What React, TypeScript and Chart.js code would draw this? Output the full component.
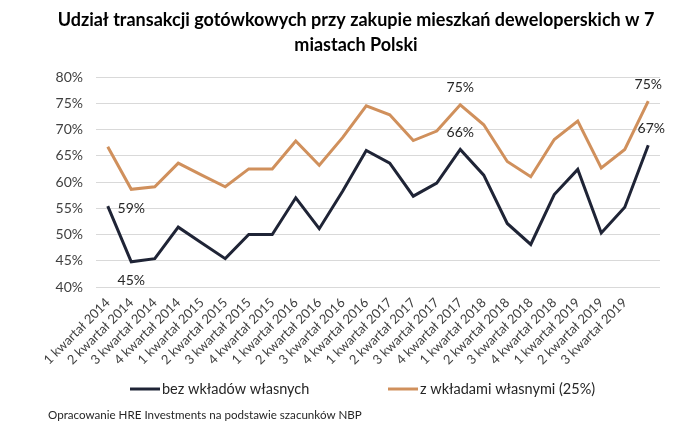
import React, { useEffect, useRef } from "react";
import { Chart, registerables } from "chart.js";

Chart.register(...registerables);

const categories: string[] = [
  "1 kwartał 2014", "2 kwartał 2014", "3 kwartał 2014", "4 kwartał 2014",
  "1 kwartał 2015", "2 kwartał 2015", "3 kwartał 2015", "4 kwartał 2015",
  "1 kwartał 2016", "2 kwartał 2016", "3 kwartał 2016", "4 kwartał 2016",
  "1 kwartał 2017", "2 kwartał 2017", "3 kwartał 2017", "4 kwartał 2017",
  "1 kwartał 2018", "2 kwartał 2018", "3 kwartał 2018", "4 kwartał 2018",
  "1 kwartał 2019", "2 kwartał 2019", "3 kwartał 2019", "",
];

const bezWkladow: number[] = [
  55.4, 44.8, 45.4, 51.4, 48.4, 45.4, 50.0, 50.0, 57.0, 51.1, 58.3, 66.0,
  63.6, 57.3, 59.8, 66.2, 61.3, 52.1, 48.1, 57.6, 62.4, 50.3, 55.2, 67.0,
];

const zWkladami: number[] = [
  66.7, 58.6, 59.1, 63.6, 61.3, 59.1, 62.5, 62.5, 67.8, 63.2, 68.5, 74.5,
  72.8, 67.9, 69.7, 74.7, 70.9, 63.9, 61.0, 68.1, 71.6, 62.7, 66.2, 75.4,
];

const yTicks: number[] = [40, 45, 50, 55, 60, 65, 70, 75, 80];

const seriesNames: string[] = ["bez wkładów własnych", "z wkładami własnymi (25%)"];
const seriesColors: string[] = ["#1f2436", "#d0905c"];

// which points get a data label: [datasetIndex, pointIndex, "above" | "below"]
const labelledPoints: [number, number, string][] = [
  [0, 1, "below"],
  [0, 15, "above"],
  [0, 23, "above"],
  [1, 1, "below"],
  [1, 15, "above"],
  [1, 23, "above"],
];

const titleLines: string[] = [
  "Udział transakcji gotówkowych przy zakupie mieszkań deweloperskich w 7",
  "miastach Polski",
];
const footerText = "Opracowanie HRE Investments na podstawie szacunków NBP";

const FONT = "Lato, 'Noto Sans', sans-serif";

const overlayPlugin = {
  id: "overlay",
  afterDatasetsDraw(chart: any) {
    const ctx = chart.ctx;
    ctx.save();
    ctx.fillStyle = "#262626";
    ctx.font = `14px ${FONT}`;
    ctx.textAlign = "center";
    ctx.textBaseline = "middle";
    labelledPoints.forEach(([ds, idx, pos]) => {
      const el = chart.getDatasetMeta(ds).data[idx];
      const v = chart.data.datasets[ds].data[idx] as number;
      const dy = pos === "above" ? -17 : 19;
      const dx = idx === chart.data.labels.length - 1 && ds === 0 ? 3 : 0;
      ctx.fillText(Math.round(v) + "%", el.x + dx, el.y + dy);
    });
    ctx.restore();
  },
  afterDraw(chart: any) {
    const ctx = chart.ctx;
    ctx.save();
    // title
    ctx.fillStyle = "#000000";
    ctx.font = `bold 18px ${FONT}`;
    ctx.textAlign = "center";
    ctx.textBaseline = "middle";
    titleLines.forEach((t, i) => ctx.fillText(t, 356, 20 + i * 25));
    // legend
    const legendY = 389;
    const legendX = [130, 388];
    ctx.font = `14.5px ${FONT}`;
    ctx.textAlign = "left";
    chart.data.datasets.forEach((d: any, i: number) => {
      ctx.strokeStyle = d.borderColor;
      ctx.lineWidth = 3;
      ctx.beginPath();
      ctx.moveTo(legendX[i], legendY);
      ctx.lineTo(legendX[i] + 30, legendY);
      ctx.stroke();
      ctx.fillStyle = "#262626";
      ctx.fillText(d.label, legendX[i] + 32, legendY);
    });
    // footer
    ctx.font = `11.6px ${FONT}`;
    ctx.fillStyle = "#262626";
    ctx.fillText(footerText, 48, 415);
    ctx.restore();
  },
};

export default function App() {
  const canvasRef = useRef<HTMLCanvasElement | null>(null);

  useEffect(() => {
    document.body.style.margin = "0";
    const canvas = canvasRef.current!;
    const chart = new Chart(canvas, {
      type: "line",
      data: {
        labels: categories,
        datasets: [
          {
            label: seriesNames[0],
            data: bezWkladow,
            borderColor: seriesColors[0],
            backgroundColor: seriesColors[0],
            borderWidth: 3,
            pointRadius: 0,
            tension: 0,
          },
          {
            label: seriesNames[1],
            data: zWkladami,
            borderColor: seriesColors[1],
            backgroundColor: seriesColors[1],
            borderWidth: 3,
            pointRadius: 0,
            tension: 0,
          },
        ],
      },
      options: {
        responsive: false,
        animation: false,
        layout: { padding: { left: 0, right: 40, top: 77, bottom: 57 } },
        plugins: {
          legend: { display: false },
          tooltip: { enabled: false },
          title: { display: false },
        },
        scales: {
          x: {
            offset: true,
            grid: { display: false, drawTicks: false },
            border: { display: false },
            ticks: {
              autoSkip: false,
              minRotation: 45,
              maxRotation: 45,
              color: "#404040",
              padding: 8,
              font: { family: FONT, size: 13 },
            },
            afterFit: (scale: any) => {
              scale.height = 88;
            },
          },
          y: {
            min: 40,
            max: 80,
            afterBuildTicks: (scale: any) => {
              scale.ticks = yTicks.map((v) => ({ value: v }));
            },
            grid: { color: "#d9d9d9", drawTicks: false, lineWidth: 1 },
            border: { display: false },
            ticks: {
              color: "#404040",
              padding: 13,
              font: { family: FONT, size: 14 },
              callback: (v: any) => v + "%",
            },
            afterFit: (scale: any) => {
              scale.width = 96;
            },
          },
        },
      },
      plugins: [overlayPlugin],
    });
    return () => chart.destroy();
  }, []);

  return (
    <div style={{ position: "absolute", left: 0, top: 0, width: 700, height: 432, background: "#ffffff" }}>
      <canvas ref={canvasRef} width={700} height={432} style={{ width: 700, height: 432 }} />
    </div>
  );
}
